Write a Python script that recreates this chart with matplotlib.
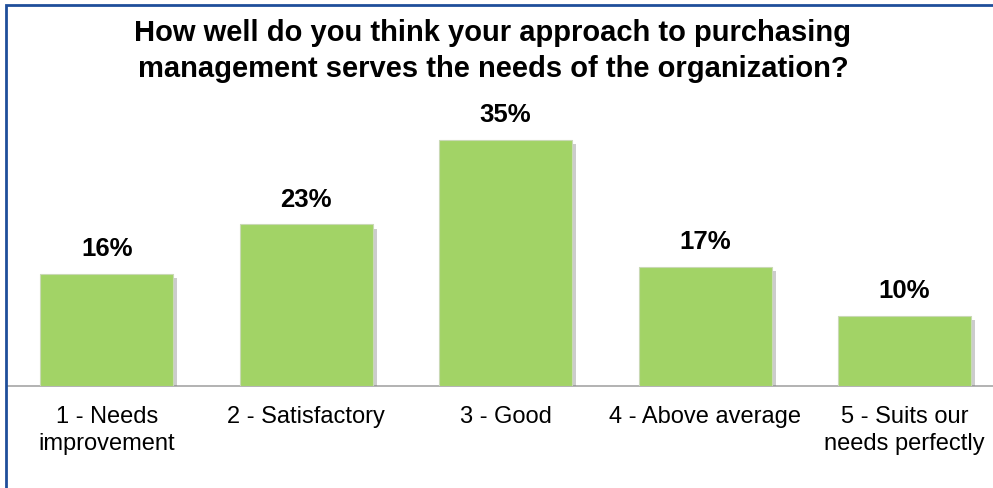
import matplotlib
matplotlib.use("Agg")
import matplotlib.pyplot as plt
import matplotlib.patheffects as pe
from matplotlib.patches import Rectangle

plt.rcParams['font.family'] = ['Liberation Sans', 'DejaVu Sans']

# data
categories = ['1 - Needs\nimprovement', '2 - Satisfactory', '3 - Good',
              '4 - Above average', '5 - Suits our\nneeds perfectly']
values = [16, 23, 35, 17, 10]
labels = ['16%', '23%', '35%', '17%', '10%']

W, H = 993, 489
fig = plt.figure(figsize=(W / 100, H / 100), dpi=100)

# axes placed in pixel terms: baseline at y=387 from top
ax = fig.add_axes([7 / W, 102 / H, (993 - 7) / W, 281 / H])
x = list(range(len(values)))
bars = ax.bar(x, values, width=0.667, color='#a2d366', edgecolor='#c9d9b5',
              linewidth=0.8, zorder=3)
for b in bars:
    b.set_path_effects([pe.SimplePatchShadow(offset=(3, -3), shadow_rgbFace='#808080', alpha=0.4),
                        pe.Normal()])

for xi, v, lab in zip(x, values, labels):
    ax.annotate(lab, (xi, v), xytext=(0, 10), textcoords='offset points',
                ha='center', va='bottom', fontsize=18.5, fontweight='bold')

ax.set_xlim(-0.5, 4.444)
ax.set_ylim(0, 40)
ax.set_xticks(x)
ax.set_xticklabels(categories, fontsize=17, linespacing=1.25)
ax.tick_params(axis='x', length=0, pad=14)
ax.set_yticks([])
for s in ['top', 'right', 'left']:
    ax.spines[s].set_visible(False)
ax.spines['bottom'].set_color('#a6a6a6')
ax.spines['bottom'].set_linewidth(1.2)

fig.text(493 / W, 1 - 51 / H,
         'How well do you think your approach to purchasing\nmanagement serves the needs of the organization?',
         ha='center', va='center', fontsize=21, fontweight='bold', linespacing=1.4)

# dark blue frame (left and top visible)
fig.patches.append(Rectangle((6 / W, -0.1), 1.2, 1 - 6 / H + 0.1, transform=fig.transFigure,
                             fill=False, edgecolor='#1f4e9a', linewidth=2, figure=fig))

fig.savefig('out.png', dpi=100)
